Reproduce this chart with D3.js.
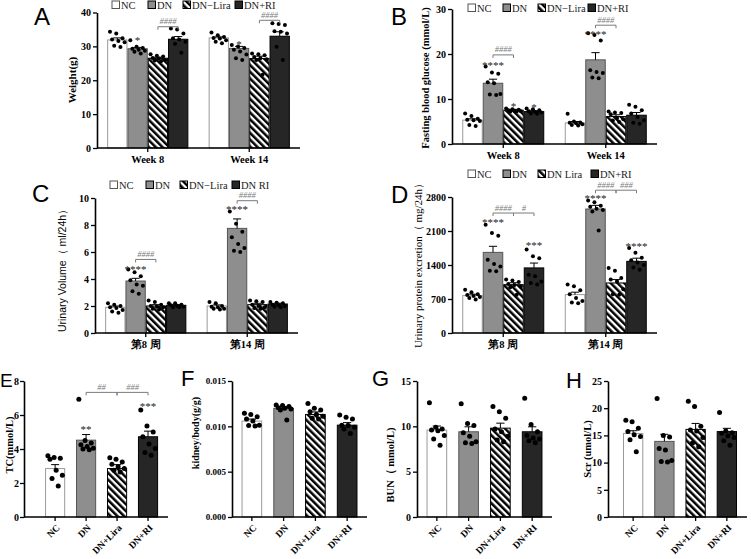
<!DOCTYPE html>
<html><head><meta charset="utf-8">
<script src="https://cdn.jsdelivr.net/npm/d3@7"></script>
<style>body{margin:0;background:#fff} svg{display:block}</style>
</head><body><svg id="c" width="751" height="559"></svg>
<script>
// ---------- DATA ----------
const groups = ["NC", "DN", "DN−Lira", "DN+RI"];
const weeksEN = ["Week 8", "Week 14"];
const weeksCN = ["第8 周", "第14 周"];
const bottomGroups = ["NC", "DN", "DN+Lira", "DN+RI"];
const legendABD = ["NC", "DN", "DN−Lira", "DN+RI"];
const legendC = ["NC", "DN", "DN−Lira", "DN RI"];
const legendD = ["NC", "DN", "DN Lira", "DN+RI"];

// A: Weight (g)  [week][group]
const weightMean = [[31.9, 29.3, 26.5, 32.1], [32.5, 29.4, 26.4, 33.0]];
const weightSem = [[0.6, 0.4, 0.3, 0.8], [0.3, 0.6, 0.7, 1.3]];
const weightPts = [
  [[34.3, 33.8, 32.4, 32.0, 31.6, 31.2, 30.2, 29.8], [31.8, 29.9, 29.5, 29.3, 29.0, 28.7, 28.4, 27.9],
   [27.7, 27.2, 27.0, 26.6, 26.4, 26.0, 25.8, 25.6], [35.3, 35.0, 33.8, 32.4, 32.0, 31.4, 30.8, 28.1]],
  [[34.1, 33.3, 32.8, 32.5, 32.3, 31.8, 31.4, 30.9], [30.4, 30.0, 29.5, 29.0, 28.5, 27.6, 26.5, 26.0],
   [27.9, 27.7, 27.4, 26.9, 26.5, 26.2, 26.0, 21.6], [36.8, 36.6, 36.3, 34.5, 34.3, 33.8, 29.9, 26.0]]
];
const weightStars = [[0, 1, "*", 32.4], [1, 1, "*", 31.2]];
const weightBrackets = [[0, 2, 3, 35.8, "####"], [1, 2, 3, 37.7, "####"]];
const weightTicks = [0, 10, 20, 30, 40];

// B: Fasting blood glucose (mmol/L)
const fbgMean = [[5.3, 13.5, 7.5, 7.2], [4.7, 18.7, 6.1, 6.4]];
const fbgSem = [[0.3, 0.9, 0.2, 0.2], [0.3, 1.6, 0.4, 0.6]];
const fbgPts = [
  [[6.8, 6.2, 5.6, 5.4, 5.3, 5.1, 4.2, 4.0], [17.2, 15.9, 15.6, 13.7, 13.5, 11.1, 11.0, 10.9],
   [7.9, 7.7, 7.6, 7.5, 7.4, 7.3, 7.2, 7.2], [7.9, 7.7, 7.5, 7.3, 7.1, 7.0, 6.8, 6.7]],
  [[6.7, 5.0, 4.8, 4.7, 4.6, 4.4, 4.2, 4.1], [24.6, 24.2, 23.0, 16.4, 16.0, 15.8, 14.8, 14.6],
   [7.2, 7.0, 6.9, 6.6, 5.8, 5.5, 5.2, 4.9], [8.7, 8.3, 7.5, 6.8, 6.0, 5.3, 4.7, 4.5]]
];
const fbgStars = [[0, 1, "****", 18.1], [0, 2, "*", 8.9], [0, 3, "*", 8.6], [1, 1, "****", 24.8]];
const fbgBrackets = [[0, 1, 2, 19.8, "####"], [1, 1, 2, 26.4, "####"]];
const fbgTicks = [0, 10, 20, 30];

// C: Urinary volume (ml/24h)
const uvMean = [[1.9, 3.85, 2.0, 2.05], [2.0, 7.75, 2.1, 2.15]];
const uvSem = [[0.1, 0.2, 0.1, 0.05], [0.08, 0.7, 0.1, 0.06]];
const uvPts = [
  [[2.2, 2.1, 2.0, 1.9, 1.85, 1.7, 1.6, 1.5], [4.7, 4.5, 4.2, 3.9, 3.6, 3.5, 3.1, 2.9],
   [2.4, 2.3, 2.1, 2.0, 1.95, 1.9, 1.8, 1.75], [2.2, 2.2, 2.1, 2.05, 2.0, 1.95, 1.9, 1.9]],
  [[2.3, 2.2, 2.0, 1.95, 1.9, 1.8, 1.8, 1.75], [9.0, 8.1, 7.5, 7.1, 6.6, 6.3, 6.1, 6.0],
   [2.4, 2.35, 2.3, 2.1, 2.0, 1.9, 1.85, 1.8], [2.3, 2.25, 2.2, 2.1, 2.05, 2.0, 1.95, 1.9]]
];
const uvStars = [[0, 1, "****", 4.9], [1, 1, "****", 9.3]];
const uvBrackets = [[0, 1, 2, 5.45, "####"], [1, 1, 2, 9.8, "####"]];
const uvTicks = [0, 2, 4, 6, 8, 10];

// D: Urinary protein excretion (mg/24h)
const upeMean = [[770, 1660, 995, 1340], [790, 2553, 1030, 1475]];
const upeSem = [[30, 125, 40, 100], [50, 75, 70, 65]];
const upePts = [
  [[890, 840, 800, 780, 760, 740, 720, 690], [2230, 2060, 2000, 1510, 1420, 1370, 1280, 1270],
   [1100, 1080, 1050, 1010, 990, 960, 940, 790], [1720, 1580, 1540, 1200, 1170, 1060, 1030, 1000]],
  [[1000, 960, 880, 800, 720, 660, 630, 610], [2730, 2690, 2620, 2600, 2560, 2530, 2500, 2110],
   [1340, 1280, 1130, 1100, 1060, 900, 800, 790], [1750, 1650, 1550, 1500, 1450, 1400, 1350, 1300]]
];
const upeStars = [[0, 1, "****", 2333], [0, 3, "***", 1853], [1, 1, "****", 2828], [1, 3, "****", 1840]];
const upeBrackets = [[0, 1, 2, 2470, "####"], [0, 2, 3, 2470, "#"], [1, 1, 2, 2940, "####"], [1, 2, 3, 2940, "###"]];
const upeTicks = [0, 700, 1400, 2100, 2800];

// E: TC (mmol/L)
const tcMean = [2.85, 4.52, 2.85, 4.72];
const tcSem = [0.23, 0.33, 0.23, 0.33];
const tcPts = [[3.6, 3.5, 3.45, 3.4, 2.75, 2.45, 2.26, 1.83], [6.93, 4.5, 4.35, 4.25, 4.15, 4.05, 4.0, 3.95],
  [3.48, 3.4, 3.24, 3.1, 2.95, 2.85, 2.75, 2.65], [6.29, 5.36, 5.0, 4.72, 4.3, 4.03, 3.8, 3.63]];
const tcStars = [[1, "**", 5.3], [3, "***", 6.62]];
const tcBrackets = [[1, 2, 7.33, "##"], [2, 3, 7.33, "###"]];
const tcTicks = [0, 2, 4, 6, 8];

// F: kidney/body (g/g)
const kbMean = [0.01058, 0.01198, 0.01131, 0.01013];
const kbSem = [0.00022, 0.00018, 0.00028, 0.00028];
const kbPts = [[0.01143, 0.0113, 0.01106, 0.0108, 0.0106, 0.01013, 0.0101, 0.01005],
  [0.01235, 0.0123, 0.0122, 0.01205, 0.0120, 0.0119, 0.0118, 0.01069],
  [0.01253, 0.0120, 0.0118, 0.0116, 0.0113, 0.0111, 0.0109, 0.0108],
  [0.01124, 0.0110, 0.0108, 0.01013, 0.0101, 0.0099, 0.0097, 0.00921]];
const kbTicks = [0.000, 0.005, 0.010, 0.015];

// G: BUN (mmol/L)
const bunMean = [9.58, 9.4, 9.8, 9.4];
const bunSem = [0.45, 0.55, 0.55, 0.55];
const bunPts = [[12.6, 9.9, 9.7, 9.6, 9.5, 9.0, 8.6, 7.9], [12.5, 10.3, 10.1, 9.3, 8.9, 8.3, 8.2, 8.1],
  [12.2, 11.6, 10.9, 9.7, 9.4, 8.9, 8.5, 8.3], [13.1, 10.2, 9.4, 9.0, 8.7, 8.6, 8.4, 8.2]];
const bunTicks = [0, 5, 10, 15];

// H: Scr (umol/L)
const scrMean = [15.36, 13.9, 16.1, 15.7];
const scrSem = [0.5, 1.3, 1.1, 0.6];
const scrPts = [[17.8, 17.5, 16.3, 15.7, 15.1, 14.8, 14.2, 12.0], [21.8, 15.0, 14.7, 12.6, 12.3, 10.4, 10.2, 10.1],
  [21.3, 20.3, 16.7, 16.0, 15.8, 14.6, 13.6, 12.9], [19.2, 15.8, 15.5, 15.4, 14.9, 14.6, 14.0, 13.2]];
const scrTicks = [0, 5, 10, 15, 20, 25];

// ---------- DRAW ----------
const svg = d3.select("#c");
svg.append("rect").attr("width", 751).attr("height", 559).attr("fill", "#fff");
const defs = svg.append("defs");
const pat = defs.append("pattern").attr("id", "hatch").attr("patternUnits", "userSpaceOnUse")
  .attr("width", 4.8).attr("height", 4.8).attr("patternTransform", "rotate(-45)");
pat.append("rect").attr("width", 4.8).attr("height", 4.8).attr("fill", "#fff");
pat.append("rect").attr("width", 2.5).attr("height", 4.8).attr("fill", "#000");

const SERIF = "'Liberation Serif','Times New Roman',serif";
const SANS = "'Liberation Sans',Arial,sans-serif";
const barStyle = [
  { fill: "#fff", stroke: "#9a9a9a" },
  { fill: "#8e8e8e", stroke: "#555" },
  { fill: "url(#hatch)", stroke: "#000" },
  { fill: "#262626", stroke: "#000" }
];
const jit = [0, 3, 6, 1, 4, 7, 2, 5];

function styleAxis(ax, fs) {
  ax.attr("font-family", SERIF);
  ax.selectAll("path.domain").attr("stroke", "#000").attr("stroke-width", 1.6);
  ax.selectAll(".tick line").attr("stroke", "#000").attr("stroke-width", 1.3);
  ax.selectAll(".tick text").attr("font-family", SERIF).attr("font-weight", "bold")
    .attr("font-size", fs).attr("fill", "#000");
}

function drawBar(g, bx, bw, y, mean, sem, pts, gi, r) {
  g.append("rect").attr("x", bx + 0.5).attr("y", y(mean)).attr("width", bw - 1)
    .attr("height", y(0) - y(mean)).attr("fill", barStyle[gi].fill)
    .attr("stroke", barStyle[gi].stroke).attr("stroke-width", 1);
  const cx = bx + bw / 2;
  g.append("line").attr("x1", cx).attr("x2", cx).attr("y1", y(mean)).attr("y2", y(mean + sem))
    .attr("stroke", "#000").attr("stroke-width", 1);
  g.append("line").attr("x1", cx - bw * 0.2).attr("x2", cx + bw * 0.2)
    .attr("y1", y(mean + sem)).attr("y2", y(mean + sem)).attr("stroke", "#000").attr("stroke-width", 1);
  g.selectAll(null).data(pts).join("circle")
    .attr("cx", (d, i) => cx + (jit[i % 8] - 3.5) / 3.5 * bw * 0.36)
    .attr("cy", d => y(d)).attr("r", r).attr("fill", "#000");
}

function drawBracket(g, xa, xb, yy, label, fs) {
  g.append("path").attr("d", `M${xa},${yy + 3}V${yy}H${xb}V${yy + 3}`)
    .attr("fill", "none").attr("stroke", "#7a7a7a").attr("stroke-width", 1);
  g.append("text").attr("x", (xa + xb) / 2).attr("y", yy - 2.5).attr("text-anchor", "middle")
    .attr("font-family", SERIF).attr("font-style", "italic").attr("font-size", fs)
    .attr("fill", "#7a7a7a").text(label);
}

function legend(items, xs, yc) {
  const g = svg.append("g");
  items.forEach((t, i) => {
    g.append("rect").attr("x", xs[i]).attr("y", yc - 4).attr("width", 7.5).attr("height", 7.5)
      .attr("fill", barStyle[i].fill).attr("stroke", i === 0 ? "#555" : "#000").attr("stroke-width", 1);
    g.append("text").attr("x", xs[i] + 9).attr("y", yc + 3.5).attr("font-family", SERIF)
      .attr("font-size", 10.5).attr("fill", "#222").text(t);
  });
}

function letter(t, x, y, fs) {
  svg.append("text").attr("x", x).attr("y", y).attr("font-family", SANS).attr("font-size", fs || 24)
    .attr("fill", "#000").text(t);
}

function yLabel(t, x, y, font, weight, fs) {
  svg.append("text").attr("transform", `translate(${x},${y}) rotate(-90)`).attr("text-anchor", "middle")
    .attr("dy", "0.35em").attr("font-family", font).attr("font-weight", weight).attr("font-size", fs)
    .attr("fill", "#000").text(t);
}

function grouped(o) {
  const g = svg.append("g");
  const x0 = d3.scaleBand().domain(o.cats).range([o.left, o.right]).paddingInner(0.2).paddingOuter(0.1);
  const x1 = d3.scaleBand().domain(groups).range([0, x0.bandwidth()]);
  const y = d3.scaleLinear().domain([0, o.max]).range([o.bottom, o.top]);
  o.cats.forEach((c, ci) => groups.forEach((gn, gi) =>
    drawBar(g, x0(c) + x1(gn), x1.bandwidth(), y, o.means[ci][gi], o.sems[ci][gi], o.pts[ci][gi], gi, 2)));
  const cx = (ci, gi) => x0(o.cats[ci]) + x1(groups[gi]) + x1.bandwidth() / 2;
  o.stars.forEach(s => g.append("text").attr("x", cx(s[0], s[1])).attr("y", y(s[3]) + 6)
    .attr("text-anchor", "middle").attr("font-family", SERIF).attr("font-size", 11)
    .attr("fill", "#222").text(s[2]));
  o.brackets.forEach(b => drawBracket(g, cx(b[0], b[1]), cx(b[0], b[2]), y(b[3]), b[4], 8.5));
  const ay = g.append("g").attr("transform", `translate(${o.left},0)`)
    .call(d3.axisLeft(y).tickValues(o.ticks).tickSize(4).tickSizeOuter(0).tickPadding(2)
      .tickFormat(d3.format("d")));
  styleAxis(ay, 10);
  const ax = g.append("g").attr("transform", `translate(0,${o.bottom})`)
    .call(d3.axisBottom(x0).tickSize(4).tickSizeOuter(0).tickPadding(4));
  styleAxis(ax, 10.5);
  ax.select("path.domain").attr("d", `M${o.left},0H${o.right}`);
}

function simple(o) {
  const g = svg.append("g");
  const x = d3.scaleBand().domain(bottomGroups).range([o.left, o.right])
    .paddingInner(0.35).paddingOuter(o.po).align(o.align);
  const y = d3.scaleLinear().domain([0, o.max]).range([517, 381]);
  bottomGroups.forEach((gn, gi) =>
    drawBar(g, x(gn), x.bandwidth(), y, o.means[gi], o.sems[gi], o.pts[gi], gi, 2.5));
  const cx = gi => x(bottomGroups[gi]) + x.bandwidth() / 2;
  (o.stars || []).forEach(s => g.append("text").attr("x", cx(s[0])).attr("y", y(s[2]) + 6)
    .attr("text-anchor", "middle").attr("font-family", SERIF).attr("font-size", 11)
    .attr("fill", "#222").text(s[1]));
  (o.brackets || []).forEach(b => drawBracket(g, cx(b[0]), cx(b[1]), y(b[2]), b[3], 8.5));
  const ay = g.append("g").attr("transform", `translate(${o.left},0)`)
    .call(d3.axisLeft(y).tickValues(o.ticks).tickSize(4).tickSizeOuter(0).tickPadding(o.tp == null ? 2 : o.tp)
      .tickFormat(o.fmt ? d3.format(o.fmt) : d3.format("d")));
  styleAxis(ay, o.fs || 10);
  const ax = g.append("g").attr("transform", `translate(0,517)`)
    .call(d3.axisBottom(x).tickSize(4).tickSizeOuter(0));
  styleAxis(ax, 9.5);
  ax.select("path.domain").attr("d", `M${o.left},0H${o.right}`);
  ax.selectAll(".tick text").attr("x", 0).attr("y", 0).attr("dy", "0.35em")
    .attr("text-anchor", "end").attr("transform", "translate(3,9) rotate(-45)");
}

// Panel A
grouped({ cats: weeksEN, left: 97, right: 300, top: 12.5, bottom: 148, max: 40, ticks: weightTicks,
  means: weightMean, sems: weightSem, pts: weightPts, stars: weightStars, brackets: weightBrackets });
legend(legendABD, [112, 148, 183, 235], 5);
letter("A", 34, 25);
yLabel("Weight(g)", 72, 80, SERIF, "bold", 11);

// Panel B
grouped({ cats: weeksEN, left: 452, right: 657, top: 9, bottom: 144, max: 30, ticks: fbgTicks,
  means: fbgMean, sems: fbgSem, pts: fbgPts, stars: fbgStars, brackets: fbgBrackets });
legend(legendABD, [468, 503, 538, 588], 8);
letter("B", 391, 25);
yLabel("Fasting blood glucose (mmol/L)", 425, 78, SERIF, "bold", 10.5);

// Panel C
grouped({ cats: weeksCN, left: 95, right: 298, top: 198, bottom: 333, max: 10, ticks: uvTicks,
  means: uvMean, sems: uvSem, pts: uvPts, stars: uvStars, brackets: uvBrackets });
legend(legendC, [110, 146, 180, 232], 185);
letter("C", 32, 202);
yLabel("Urinary Volume（ ml/24h）", 62, 268, SANS, "normal", 10.5);

// Panel D
grouped({ cats: weeksCN, left: 452, right: 657, top: 197, bottom: 333, max: 2800, ticks: upeTicks,
  means: upeMean, sems: upeSem, pts: upePts, stars: upeStars, brackets: upeBrackets });
legend(legendD, [468, 503, 538, 591], 174);
letter("D", 391, 203);
yLabel("Urinary protein excretion（ mg/24h）", 418, 263, SERIF, "normal", 11);

// Panel E-H
simple({ left: 24, right: 168, po: 0.5, align: 0.68, max: 8, ticks: tcTicks, tp: 1,
  means: tcMean, sems: tcSem, pts: tcPts, stars: tcStars, brackets: tcBrackets });
letter("E", 0, 387, 19);
yLabel("TC(mmol/L)", 9, 445, SERIF, "bold", 10.5);

simple({ left: 232, right: 367, po: 0.3, align: 0.5, max: 0.015, ticks: kbTicks, fmt: ".3f", fs: 9,
  means: kbMean, sems: kbSem, pts: kbPts });
letter("F", 181, 386, 22);
yLabel("kidney/body(g/g)", 195, 433, SERIF, "bold", 10);

simple({ left: 417, right: 552, po: 0.3, align: 0.5, max: 15, ticks: bunTicks,
  means: bunMean, sems: bunSem, pts: bunPts });
letter("G", 372, 386, 22);
yLabel("BUN（ mmol/L)", 390, 465, SERIF, "bold", 10.5);

simple({ left: 608, right: 747, po: 0.4, align: 0.6, max: 25, ticks: scrTicks,
  means: scrMean, sems: scrSem, pts: scrPts });
letter("H", 566, 388, 22);
yLabel("Scr (umol/L)", 587, 449, SERIF, "bold", 10.5);
</script></body></html>
